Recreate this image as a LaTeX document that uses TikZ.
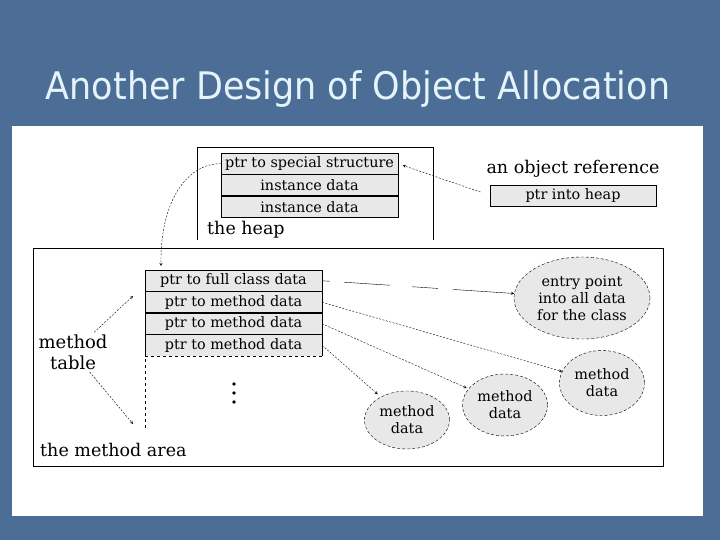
\documentclass[tikz,border=0pt]{standalone}
\usepackage{fontspec}
\setmainfont{DejaVu Serif}
\newfontfamily\titlefont{DejaVu Sans}
\usepackage{tikz}
\usetikzlibrary{shapes.geometric, arrows, positioning}

\definecolor{slideblue}{RGB}{76,110,150}
\definecolor{titlecyan}{RGB}{228,244,250}
\definecolor{cellgray}{RGB}{232,232,232}

\begin{document}
\begin{tikzpicture}[
  x=1pt, y=-1pt,
  cell/.style={rectangle, draw=black, fill=cellgray, inner sep=0pt, outer sep=0pt,
               minimum width=177pt, minimum height=21.5pt, font=\fontsize{14.4}{17}\selectfont},
  blob/.style={ellipse, draw=black, densely dashed, fill=cellgray, inner sep=0pt,
               align=center, font=\fontsize{14.4}{17}\selectfont},
  areatext/.style={inner sep=0pt, font=\fontsize{17.5}{20}\selectfont},
  ptr/.style={->, >=stealth, thin, dash pattern=on 2pt off 1.5pt}
]
\useasboundingbox (0,0) rectangle (720,540);
\fill[slideblue] (0,0) rectangle (720,540);
\fill[white] (12,126) rectangle (703,516);
\node[anchor=base, text=titlecyan, font=\titlefont\fontsize{38}{40}\selectfont] (title) at (358,100)
  {\scalebox{0.92}[1]{Another Design of Object Allocation}};

% the heap
\draw (197,240) -- (197,147) -- (433,147) -- (433,240);
\node[cell, anchor=north west] (spec)  at (221,153) {ptr to special structure};
\node[cell, below=0pt of spec]  (inst1) {instance data};
\node[cell, below=0pt of inst1] (inst2) {instance data};
\draw[line width=1.2pt] (inst1.south west) -- (inst1.south east);
\node[areatext, anchor=base west] (heapname) at (207,234) {the heap};

% the object reference
\node[areatext] (reftitle) at (573,169) {an object reference};
\node[cell, minimum width=166pt, minimum height=21pt, font=\fontsize{14.4}{17}\selectfont,
      below=7pt of reftitle] (ref) {ptr into heap};
\draw[ptr, shorten <=10pt, shorten >=5pt] (ref.west) -- (spec.east);

% the method area
\draw (33,248) rectangle (663,466);
\node[cell, anchor=north west] (full) at (145,270) {ptr to full class data};
\node[cell, below=0pt of full] (m1) {ptr to method data};
\node[cell, below=0pt of m1]   (m2) {ptr to method data};
\node[cell, draw=none, below=0pt of m2] (m3) {ptr to method data};
\draw (m3.south west) -- (m3.north west) -- (m3.north east) -- (m3.south east);
\draw[line width=1.2pt] (m1.south west) -- (m1.south east);
\draw[dashed] (m3.south east) -- (m3.south west) -- ++(0,72);
\foreach \y in {384,393,402}
  \fill (234,\y) circle (1.9);

\node[areatext, align=center, font=\fontsize{18}{21}\selectfont] (mtable) at (73,352) {method\\table};
\coordinate (tabtop) at (133,296);
\coordinate (tabbot) at (133,424);
\draw[ptr, shorten <=3pt] (mtable) -- (tabtop);
\draw[ptr, shorten <=3pt] (mtable) -- (tabbot);
\node[areatext, anchor=base west] (areaname) at (40,456) {the method area};

% class data and method data
\node[blob, minimum width=136pt, minimum height=82pt] (entry) at (582,298)
  {entry point\\into all data\\for the class};
\node[blob, minimum width=85pt, minimum height=65pt] (md1) at (602,383) {method\\data};
\node[blob, minimum width=85pt, minimum height=62pt] (md2) at (505,405) {method\\data};
\node[blob, minimum width=85pt, minimum height=58pt] (md3) at (407,420) {method\\data};

\draw[->, >=stealth, thin, dash pattern=on 8pt off 14pt on 46pt off 22pt on 26pt off 15pt on 80pt]
  (full.east) -- (entry);
\draw[ptr] (m1.east) -- (md1);
\draw[ptr, shorten >=2pt] (m2.east) -- (md2);
\draw[ptr, shorten >=4pt] (m3.east) -- (md3);

% heap object points into the method area
\coordinate (hptr) at (161,266);
\draw[ptr] (spec.west) .. controls (188,163) and (160,200) .. (hptr);
\end{tikzpicture}
\end{document}
